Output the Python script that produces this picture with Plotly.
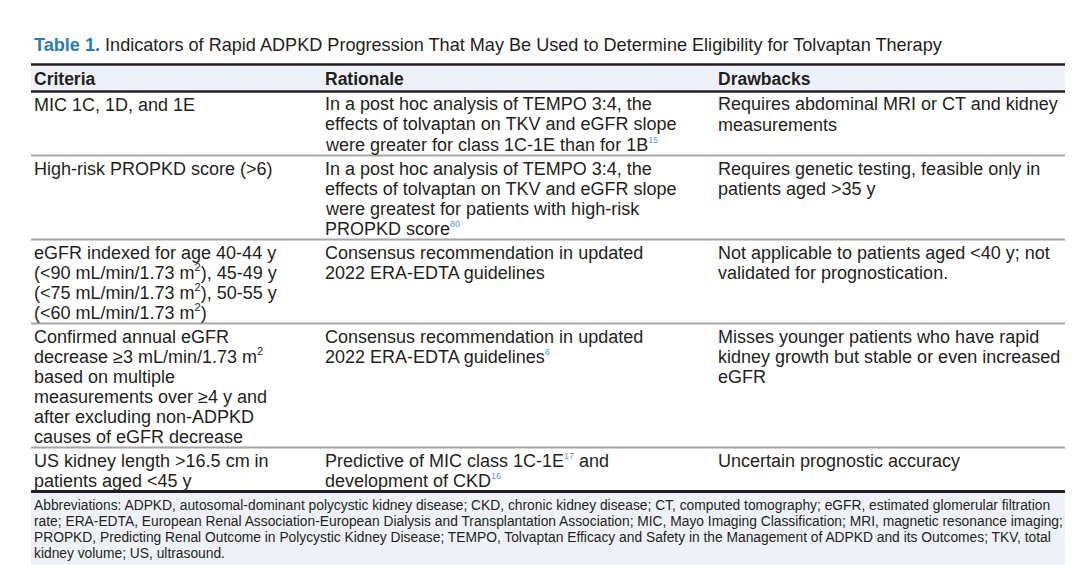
import plotly.graph_objects as go

# Table content
title_label = "Table 1."
title_text = ("Indicators of Rapid ADPKD Progression That May Be Used to Determine "
              "Eligibility for Tolvaptan Therapy")
headers = ["Criteria", "Rationale", "Drawbacks"]

# small blue citation marks and unit exponents
REF = "<sup><span style='color:#5b9bd5;font-size:9px'>{}</span></sup>"
SQ = "<sup><span style='font-size:11px'>2</span></sup>"

criteria = [
    ["MIC 1C, 1D, and 1E"],
    ["High-risk PROPKD score (&gt;6)"],
    ["eGFR indexed for age 40-44 y",
     "(&lt;90 mL/min/1.73 m" + SQ + "), 45-49 y",
     "(&lt;75 mL/min/1.73 m" + SQ + "), 50-55 y",
     "(&lt;60 mL/min/1.73 m" + SQ + ")"],
    ["Confirmed annual eGFR",
     "decrease ≥3 mL/min/1.73 m" + SQ,
     "based on multiple",
     "measurements over ≥4 y and",
     "after excluding non-ADPKD",
     "causes of eGFR decrease"],
    ["US kidney length &gt;16.5 cm in",
     "patients aged &lt;45 y"],
]

rationale = [
    ["In a post hoc analysis of TEMPO 3:4, the",
     "effects of tolvaptan on TKV and eGFR slope",
     "were greater for class 1C-1E than for 1B" + REF.format(15)],
    ["In a post hoc analysis of TEMPO 3:4, the",
     "effects of tolvaptan on TKV and eGFR slope",
     "were greatest for patients with high-risk",
     "PROPKD score" + REF.format(80)],
    ["Consensus recommendation in updated",
     "2022 ERA-EDTA guidelines"],
    ["Consensus recommendation in updated",
     "2022 ERA-EDTA guidelines" + REF.format(8)],
    ["Predictive of MIC class 1C-1E" + REF.format(17) + " and",
     "development of CKD" + REF.format(16)],
]

drawbacks = [
    ["Requires abdominal MRI or CT and kidney",
     "measurements"],
    ["Requires genetic testing, feasible only in",
     "patients aged &gt;35 y"],
    ["Not applicable to patients aged &lt;40 y; not",
     "validated for prognostication."],
    ["Misses younger patients who have rapid",
     "kidney growth but stable or even increased",
     "eGFR"],
    ["Uncertain prognostic accuracy"],
]

footnote = [
    "Abbreviations: ADPKD, autosomal-dominant polycystic kidney disease; CKD, chronic kidney disease; "
    "CT, computed tomography; eGFR, estimated glomerular filtration",
    "rate; ERA-EDTA, European Renal Association-European Dialysis and Transplantation Association; "
    "MIC, Mayo Imaging Classification; MRI, magnetic resonance imaging;",
    "PROPKD, Predicting Renal Outcome in Polycystic Kidney Disease; TEMPO, Tolvaptan Efficacy and "
    "Safety in the Management of ADPKD and its Outcomes; TKV, total",
    "kidney volume; US, ultrasound.",
]

# Geometry / style
W, H = 1090, 565
LEFT, RIGHT = 31, 1065
COL_X = [32, 323, 716]
TEXT = "#231f20"
BLUE = "#2a7ab8"
PANEL = "#eef2f8"
FONT = "Liberation Sans, Arial, sans-serif"
BODY_SIZE = 18
LINE_H = 20
ROW_PAD = 4
TOP_RULE = 64.5
HEAD_RULE = 91.5
FOOT_LINE_H = 16

columns = [criteria, rationale, drawbacks]

annotations = []
shapes = []


def add_text(x, y, text, size=BODY_SIZE, color=TEXT, anchor="middle"):
    annotations.append(dict(
        x=x, y=y, xref="x", yref="y", text=text, showarrow=False,
        xanchor="left", yanchor=anchor, align="left",
        font=dict(family=FONT, size=size, color=color),
    ))


def add_rule(y, width, color):
    shapes.append(dict(type="line", xref="x", yref="y", x0=LEFT, x1=RIGHT,
                       y0=y, y1=y, line=dict(color=color, width=width)))


# title
add_text(COL_X[0], 45, f"<b><span style='color:{BLUE}'>{title_label}</span></b> {title_text}",
         size=18.1)

# header band
shapes.append(dict(type="rect", xref="x", yref="y", x0=LEFT, x1=RIGHT,
                   y0=TOP_RULE, y1=HEAD_RULE, fillcolor=PANEL, line_width=0, layer="below"))
for x, h in zip(COL_X, headers):
    add_text(x, 78.5, f"<b>{h}</b>", size=17.5)
add_rule(TOP_RULE, 2.5, TEXT)
add_rule(HEAD_RULE, 2.5, TEXT)

# body rows (bottom-anchored so superscripts do not push the baseline)
row_top = HEAD_RULE
n_rows = len(criteria)
for r in range(n_rows):
    n_lines = max(len(col[r]) for col in columns)
    for x, col in zip(COL_X, columns):
        for i, line in enumerate(col[r]):
            add_text(x, row_top + 25 + i * LINE_H, line, anchor="bottom")
    row_top += n_lines * LINE_H + ROW_PAD
    if r < n_rows - 1:
        add_rule(row_top, 2, "#a6a6a6")

add_rule(row_top, 3, TEXT)

# footnote band
foot_top = row_top + 1.5
shapes.append(dict(type="rect", xref="x", yref="y", x0=LEFT, x1=RIGHT,
                   y0=foot_top, y1=foot_top + len(footnote) * FOOT_LINE_H + 8,
                   fillcolor=PANEL, line_width=0, layer="below"))
for i, line in enumerate(footnote):
    add_text(COL_X[0], foot_top + 12.5 + i * FOOT_LINE_H, line, size=13.8)

fig = go.Figure()
fig.update_layout(
    width=W, height=H,
    margin=dict(l=0, r=0, t=0, b=0),
    paper_bgcolor="white", plot_bgcolor="white",
    xaxis=dict(range=[0, W], visible=False, fixedrange=True),
    yaxis=dict(range=[H, 0], visible=False, fixedrange=True),
    showlegend=False,
    shapes=shapes,
    annotations=annotations,
)

# drop the default page margin so the figure sits at the window's corner
fig.write_html("out.html", config={"displayModeBar": False},
               post_script="document.body.style.margin='0px';")
